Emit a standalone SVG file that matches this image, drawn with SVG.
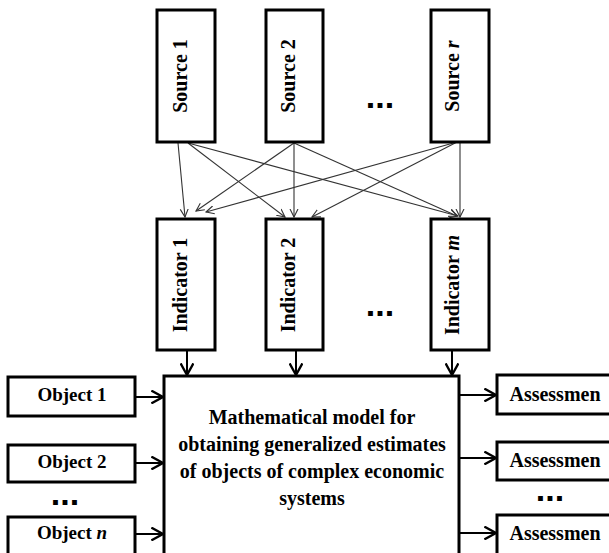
<svg xmlns="http://www.w3.org/2000/svg" width="609" height="553" viewBox="0 0 609 553">
<style>
.box{fill:#fff;stroke:#000;stroke-width:3}
.t{font-family:"Liberation Serif","Times New Roman",serif;font-weight:bold;fill:#000}
.v{font-size:20px;text-anchor:middle}
.h{font-size:19px;text-anchor:middle}
.a{font-size:20px;text-anchor:middle}
.m{font-size:20px;text-anchor:middle}
.dots{font-family:"Liberation Sans",Arial,sans-serif;font-weight:bold;font-size:34px;text-anchor:middle;fill:#000}
.thin{stroke:#333;stroke-width:1.1;fill:none}
.thick{stroke:#000;stroke-width:2;fill:none}
</style>
<defs>
<marker id="ah" markerWidth="10" markerHeight="10" refX="8" refY="4" orient="auto" markerUnits="userSpaceOnUse" viewBox="0 0 10 8">
<path d="M0,0 L8,4 L0,8" fill="none" stroke="#333" stroke-width="1.1"/>
</marker>
<marker id="ahb" markerWidth="14" markerHeight="14" refX="10" refY="6" orient="auto" markerUnits="userSpaceOnUse" viewBox="0 0 12 12">
<path d="M0,0.5 L10,6 L0,11.5" fill="none" stroke="#000" stroke-width="2"/>
</marker>
</defs>
<rect width="609" height="553" fill="#fff"/>

<g id="connectors">
<line class="thin" x1="178" y1="143" x2="185" y2="217" marker-end="url(#ah)"/>
<line class="thin" x1="188" y1="143" x2="285" y2="217" marker-end="url(#ah)"/>
<line class="thin" x1="188" y1="143" x2="458" y2="216" marker-end="url(#ah)"/>
<line class="thin" x1="294" y1="143" x2="196" y2="211" marker-end="url(#ah)"/>
<line class="thin" x1="294" y1="143" x2="294" y2="217" marker-end="url(#ah)"/>
<line class="thin" x1="294" y1="143" x2="457" y2="216" marker-end="url(#ah)"/>
<line class="thin" x1="457" y1="142" x2="206" y2="212" marker-end="url(#ah)"/>
<line class="thin" x1="457" y1="142" x2="312" y2="217" marker-end="url(#ah)"/>
<line class="thin" x1="460" y1="142" x2="460" y2="217" marker-end="url(#ah)"/>
<line class="thick" x1="187" y1="351" x2="187" y2="375" marker-end="url(#ahb)"/>
<line class="thick" x1="296" y1="351" x2="296" y2="375" marker-end="url(#ahb)"/>
<line class="thick" x1="452" y1="350" x2="452" y2="375" marker-end="url(#ahb)"/>
<line class="thick" x1="135" y1="397" x2="163" y2="397" marker-end="url(#ahb)"/>
<line class="thick" x1="135" y1="463" x2="163" y2="463" marker-end="url(#ahb)"/>
<line class="thick" x1="135" y1="534" x2="163" y2="534" marker-end="url(#ahb)"/>
<line class="thick" x1="459" y1="395" x2="496" y2="395" marker-end="url(#ahb)"/>
<line class="thick" x1="459" y1="458" x2="496" y2="458" marker-end="url(#ahb)"/>
<line class="thick" x1="459" y1="533" x2="496" y2="533" marker-end="url(#ahb)"/>
</g>

<g id="source1">
<rect class="box" x="157" y="10" width="58" height="132"/>
<text class="t v" transform="translate(187,76) rotate(-90)">Source 1</text>
</g>
<g id="source2">
<rect class="box" x="266" y="10" width="57" height="132"/>
<text class="t v" transform="translate(295,76) rotate(-90)">Source 2</text>
</g>
<g id="sourcer">
<rect class="box" x="431" y="10" width="58" height="132"/>
<text class="t v" transform="translate(459,76) rotate(-90)">Source <tspan font-style="italic">r</tspan></text>
</g>
<g id="dots-sources"><text class="dots" x="380" y="108">...</text></g>

<g id="indicator1">
<rect class="box" x="157" y="219" width="58" height="131"/>
<text class="t v" transform="translate(187,285) rotate(-90)">Indicator 1</text>
</g>
<g id="indicator2">
<rect class="box" x="266" y="219" width="57" height="131"/>
<text class="t v" transform="translate(295,285) rotate(-90)">Indicator 2</text>
</g>
<g id="indicatorm">
<rect class="box" x="431" y="219" width="58" height="131"/>
<text class="t v" transform="translate(459,285) rotate(-90)">Indicator <tspan font-style="italic">m</tspan></text>
</g>
<g id="dots-indicators"><text class="dots" x="380" y="316">...</text></g>

<g id="model">
<rect class="box" x="164" y="376" width="295" height="185"/>
<text class="t m" x="312" y="424">Mathematical model for</text>
<text class="t m" x="312" y="451">obtaining generalized estimates</text>
<text class="t m" x="312" y="478">of objects of complex economic</text>
<text class="t m" x="312" y="505">systems</text>
</g>

<g id="object1">
<rect class="box" x="8" y="377" width="127" height="39"/>
<text class="t h" x="72" y="401">Object 1</text>
</g>
<g id="object2">
<rect class="box" x="8" y="445" width="127" height="37"/>
<text class="t h" x="72" y="468">Object 2</text>
</g>
<g id="dots-objects"><text class="dots" x="65" y="505">...</text></g>
<g id="objectn">
<rect class="box" x="8" y="517" width="127" height="45"/>
<text class="t h" x="72" y="539">Object <tspan font-style="italic">n</tspan></text>
</g>

<g id="assessment1">
<rect class="box" x="497" y="375" width="120" height="39"/>
<text class="t a" x="555" y="401">Assessmen</text>
</g>
<g id="assessment2">
<rect class="box" x="497" y="442" width="120" height="38"/>
<text class="t a" x="555" y="467">Assessmen</text>
</g>
<g id="dots-assess"><text class="dots" x="550" y="501">...</text></g>
<g id="assessment3">
<rect class="box" x="497" y="515" width="120" height="45"/>
<text class="t a" x="555" y="540">Assessmen</text>
</g>
</svg>
